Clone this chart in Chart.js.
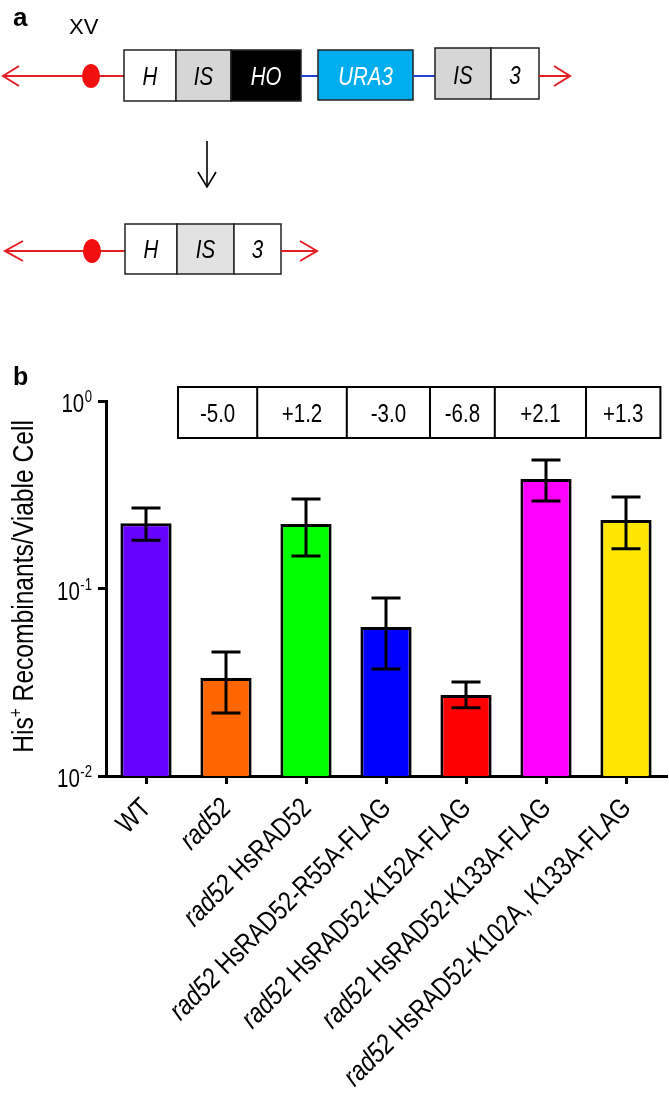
<!DOCTYPE html>
<html>
<head>
<meta charset="utf-8">
<script src="https://cdn.jsdelivr.net/npm/chart.js@4.4.1/dist/chart.umd.min.js"></script>
<style>
  html, body { margin: 0; padding: 0; background: #fff; }
  #wrap { position: relative; width: 669px; height: 1093px; overflow: hidden; }
  #chart { position: absolute; left: 0; top: 0; }
  #diagram { position: absolute; left: 0; top: 0; }
  svg text { font-family: "Liberation Sans", Arial, sans-serif; }
</style>
</head>
<body>
<div id="wrap">
<canvas id="chart" width="669" height="1093"></canvas>
<svg id="diagram" width="669" height="300" xmlns="http://www.w3.org/2000/svg">
  <text x="13" y="26" font-weight="bold" font-size="26">a</text>
  <text transform="translate(69,34)" font-size="22">XV</text>

  <!-- top construct -->
  <line x1="3" y1="76" x2="124" y2="76" stroke="#e31e24" stroke-width="2"/>
  <polyline points="19,66 3,76 19,86" fill="none" stroke="#e31e24" stroke-width="2"/>
  <ellipse cx="91" cy="76" rx="9" ry="12" fill="#f01010"/>
  <rect x="124" y="50" width="52" height="51" fill="#fff" stroke="#222" stroke-width="1.5"/>
  <rect x="176" y="50" width="55" height="51" fill="#d6d6d6" stroke="#222" stroke-width="1.5"/>
  <rect x="231" y="50" width="70" height="51" fill="#000" stroke="#222" stroke-width="1.5"/>
  <line x1="301" y1="76" x2="318" y2="76" stroke="#1f40d0" stroke-width="2"/>
  <rect x="318" y="50" width="95" height="50" fill="#00aeef" stroke="#222" stroke-width="1.5"/>
  <line x1="413" y1="76" x2="435" y2="76" stroke="#1f40d0" stroke-width="2"/>
  <rect x="435" y="48" width="56" height="51" fill="#d6d6d6" stroke="#222" stroke-width="1.5"/>
  <rect x="491" y="48" width="48" height="51" fill="#fff" stroke="#222" stroke-width="1.5"/>
  <line x1="539" y1="76" x2="570" y2="76" stroke="#e31e24" stroke-width="2"/>
  <polyline points="554,66 570,76 554,86" fill="none" stroke="#e31e24" stroke-width="2"/>
  <text transform="translate(150,85) scale(0.82,1)" text-anchor="middle" font-style="italic" font-size="25">H</text>
  <text transform="translate(203.5,85) scale(0.82,1)" text-anchor="middle" font-style="italic" font-size="25">IS</text>
  <text transform="translate(266,85) scale(0.82,1)" text-anchor="middle" font-style="italic" font-size="25" fill="#fff">HO</text>
  <text transform="translate(365.5,85) scale(0.82,1)" text-anchor="middle" font-style="italic" font-size="25" fill="#fff">URA3</text>
  <text transform="translate(463,84) scale(0.82,1)" text-anchor="middle" font-style="italic" font-size="25">IS</text>
  <text transform="translate(515,84) scale(0.82,1)" text-anchor="middle" font-style="italic" font-size="25">3</text>

  <!-- arrow -->
  <line x1="207" y1="141" x2="207" y2="187" stroke="#000" stroke-width="1.6"/>
  <polyline points="198,172 207,187 216,172" fill="none" stroke="#000" stroke-width="1.6"/>

  <!-- bottom construct -->
  <line x1="5" y1="251" x2="125" y2="251" stroke="#e31e24" stroke-width="2"/>
  <polyline points="23,241 5,251 23,261" fill="none" stroke="#e31e24" stroke-width="2"/>
  <ellipse cx="92" cy="251" rx="9" ry="12" fill="#f01010"/>
  <rect x="125" y="224" width="52" height="50" fill="#fff" stroke="#222" stroke-width="1.5"/>
  <rect x="177" y="224" width="57" height="50" fill="#e2e2e2" stroke="#222" stroke-width="1.5"/>
  <rect x="234" y="224" width="47" height="50" fill="#fff" stroke="#222" stroke-width="1.5"/>
  <line x1="281" y1="251" x2="317" y2="251" stroke="#e31e24" stroke-width="2"/>
  <polyline points="300,241 317,251 300,261" fill="none" stroke="#e31e24" stroke-width="2"/>
  <text transform="translate(151,258) scale(0.82,1)" text-anchor="middle" font-style="italic" font-size="25">H</text>
  <text transform="translate(205.5,258) scale(0.82,1)" text-anchor="middle" font-style="italic" font-size="25">IS</text>
  <text transform="translate(257.5,258) scale(0.82,1)" text-anchor="middle" font-style="italic" font-size="25">3</text>
</svg>
</div>
<script>
// ---------------- data ----------------
const labelItalic = ['', 'rad52', 'rad52', 'rad52', 'rad52', 'rad52', 'rad52'];
const labelRoman  = ['WT', '', ' HsRAD52', ' HsRAD52-R55A-FLAG', ' HsRAD52-K152A-FLAG', ' HsRAD52-K133A-FLAG', ' HsRAD52-K102A, K133A-FLAG'];
const categories  = labelItalic.map((s, i) => s + labelRoman[i]);
const recombMean  = [0.223, 0.0333, 0.221, 0.0623, 0.0270, 0.384, 0.232];
const errUpper    = [0.269, 0.0459, 0.300, 0.0890, 0.0317, 0.485, 0.308];
const errLower    = [0.181, 0.0217, 0.149, 0.0372, 0.0231, 0.293, 0.163];
const foldChange  = ['-5.0', '+1.2', '-3.0', '-6.8', '+2.1', '+1.3'];
const yTickValues = [0.01, 0.1, 1];
const yTickBase   = '10';
const yTickExp    = ['-2', '-1', '0'];
const barColors   = ['#6600ff', '#ff6600', '#00ff00', '#0000ff', '#ff0000', '#ff00ff', '#ffe600'];

// ---------------- helpers ----------------
const FAM = '"Liberation Sans", Arial, sans-serif';
const SX = 0.82;

function narrowText(ctx, text, x, y, font, align, baseline) {
  ctx.save();
  ctx.translate(x, y);
  ctx.scale(SX, 1);
  ctx.font = font;
  ctx.textAlign = align || 'left';
  ctx.textBaseline = baseline || 'alphabetic';
  ctx.fillText(text, 0, 0);
  ctx.restore();
}

const decorPlugin = {
  id: 'decor',
  afterDatasetsDraw(chart) {
    const ctx = chart.ctx;
    const ys = chart.scales.y;
    const meta = chart.getDatasetMeta(0);
    ctx.save();
    ctx.strokeStyle = '#000';
    ctx.lineWidth = 3;
    ctx.lineCap = 'butt';
    meta.data.forEach((bar, i) => {
      const x = bar.x;
      const yh = ys.getPixelForValue(errUpper[i]);
      const yl = ys.getPixelForValue(errLower[i]);
      ctx.beginPath();
      ctx.moveTo(x, yh); ctx.lineTo(x, yl);
      ctx.moveTo(x - 14.5, yh); ctx.lineTo(x + 14.5, yh);
      ctx.moveTo(x - 14.5, yl); ctx.lineTo(x + 14.5, yl);
      ctx.stroke();
    });
    ctx.restore();
  },
  afterDraw(chart) {
    const ctx = chart.ctx;
    const xs = chart.scales.x;
    const ys = chart.scales.y;
    const area = chart.chartArea;
    ctx.save();
    ctx.fillStyle = '#000';

    // panel label b
    ctx.font = 'bold 25px ' + FAM;
    ctx.textAlign = 'left';
    ctx.textBaseline = 'alphabetic';
    ctx.fillText('b', 13, 385);

    // y tick labels
    yTickValues.forEach((v, i) => {
      const y = ys.getPixelForValue(v);
      const expFont = '16px ' + FAM;
      const baseFont = '25px ' + FAM;
      ctx.font = expFont;
      const we = ctx.measureText(yTickExp[i]).width * SX;
      const right = area.left - 14;
      narrowText(ctx, yTickExp[i], right, y + 1, expFont, 'right');
      narrowText(ctx, yTickBase, right - we - 0.5, y + 11, baseFont, 'right');
    });

    // y title
    {
      const f1 = '30px ' + FAM, f2 = '19px ' + FAM;
      const p1 = 'His', p2 = '+', p3 = ' Recombinants/Viable Cell';
      ctx.font = f1; const w1 = ctx.measureText(p1).width; const w3 = ctx.measureText(p3).width;
      ctx.font = f2; const w2 = ctx.measureText(p2).width;
      const total = w1 + w2 + w3;
      const cy = (area.top + area.bottom) / 2 - 2;
      ctx.save();
      ctx.translate(33, cy);
      ctx.rotate(-Math.PI / 2);
      ctx.scale(SX, 1);
      ctx.textAlign = 'left';
      ctx.textBaseline = 'alphabetic';
      let x0 = -total / 2;
      ctx.font = f1; ctx.fillText(p1, x0, 0);
      ctx.font = f2; ctx.fillText(p2, x0 + w1, -11);
      ctx.font = f1; ctx.fillText(p3, x0 + w1 + w2, 0);
      ctx.restore();
    }

    // x labels (rotated, italic + roman)
    const fi = 'italic 28px ' + FAM, fr = '28px ' + FAM;
    categories.forEach((c, i) => {
      const x = xs.getPixelForTick(i);
      const y = area.bottom + 28;
      ctx.font = fi; const wi = labelItalic[i] ? ctx.measureText(labelItalic[i]).width : 0;
      ctx.font = fr; const wr = labelRoman[i] ? ctx.measureText(labelRoman[i]).width : 0;
      ctx.save();
      ctx.translate(x + 1, y);
      ctx.rotate(-Math.PI / 4);
      ctx.scale(SX, 1);
      ctx.textAlign = 'left';
      ctx.textBaseline = 'middle';
      if (wi) { ctx.font = fi; ctx.fillText(labelItalic[i], -(wi + wr), 0); }
      if (wr) { ctx.font = fr; ctx.fillText(labelRoman[i], -wr, 0); }
      ctx.restore();
    });

    // fold-change table
    const edges = [0.40, 1.39, 2.51, 3.55, 4.36, 5.50, 6.43].map(v => xs.getPixelForValue(v));
    const tTop = area.top - 14, tBot = area.top + 37;
    ctx.strokeStyle = '#000';
    ctx.lineWidth = 2;
    ctx.strokeRect(edges[0], tTop, edges[edges.length - 1] - edges[0], tBot - tTop);
    ctx.beginPath();
    for (let k = 1; k < edges.length - 1; k++) {
      ctx.moveTo(edges[k], tTop); ctx.lineTo(edges[k], tBot);
    }
    ctx.stroke();
    foldChange.forEach((t, k) => {
      const cx = (edges[k] + edges[k + 1]) / 2;
      narrowText(ctx, t, cx, (tTop + tBot) / 2 + 9, '25px ' + FAM, 'center');
    });
    ctx.restore();
  }
};

new Chart(document.getElementById('chart'), {
  type: 'bar',
  data: {
    labels: categories,
    datasets: [{
      data: recombMean,
      backgroundColor: barColors,
      borderColor: '#000',
      borderWidth: 3,
      barPercentage: 0.64,
      categoryPercentage: 1.0
    }]
  },
  options: {
    responsive: false,
    animation: false,
    devicePixelRatio: 1,
    layout: { padding: { left: 98, right: 3, top: 401, bottom: 309 } },
    plugins: { legend: { display: false }, tooltip: { enabled: false } },
    scales: {
      x: {
        type: 'category',
        offset: true,
        grid: { offset: false, drawOnChartArea: false, drawTicks: true, tickLength: 8, color: '#000', lineWidth: 3 },
        border: { display: true, color: '#000', width: 3 },
        ticks: { display: false },
        afterFit: s => { s.height = 8; }
      },
      y: {
        type: 'logarithmic',
        min: 0.01,
        max: 1,
        grid: { drawOnChartArea: false, drawTicks: true, tickLength: 8, color: '#000', lineWidth: 3 },
        border: { display: true, color: '#000', width: 3 },
        ticks: { display: false },
        afterBuildTicks: s => { s.ticks = yTickValues.map(v => ({ value: v })); },
        afterFit: s => { s.width = 8; }
      }
    }
  },
  plugins: [decorPlugin]
});
</script>
</body>
</html>
